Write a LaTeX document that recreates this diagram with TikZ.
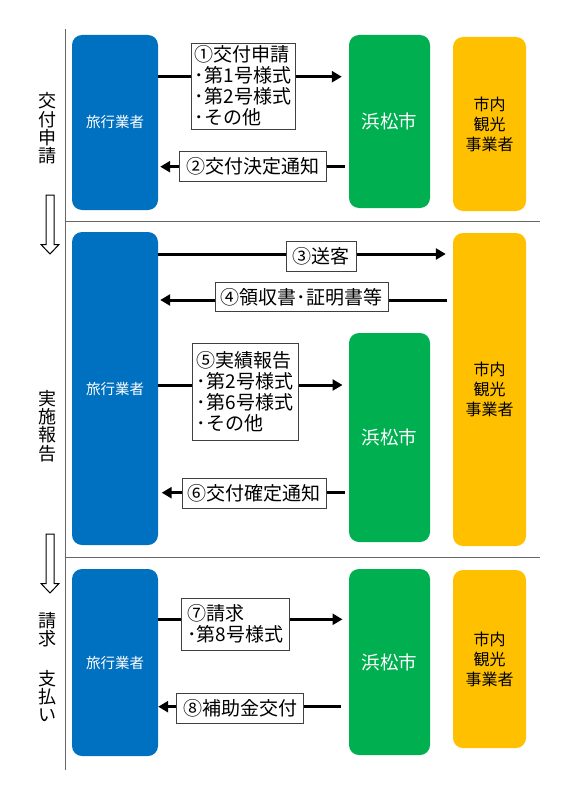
\documentclass[tikz,border=0pt]{standalone}
\usepackage{fontspec}
\setmainfont{Noto Sans CJK JP}
\usetikzlibrary{arrows.meta}
\definecolor{ryoblue}{HTML}{0070C0}
\definecolor{hamagreen}{HTML}{00B050}
\definecolor{kankoorange}{HTML}{FFC000}
\tikzset{
	actor/.style={rounded corners=10pt, inner sep=0pt, align=center},
	ryo/.style={actor, fill=ryoblue, text=white, minimum width=86pt, font=\fontsize{14.5}{16}\selectfont},
	hama/.style={actor, fill=hamagreen, text=white, minimum width=81pt, font=\fontsize{18.5}{20}\selectfont},
	kanko/.style={actor, fill=kankoorange, text=black, minimum width=73pt, font=\fontsize{16}{20}\selectfont},
	msg/.style={draw=black!75, fill=white, line width=0.8pt, inner sep=2pt, align=left, font=\fontsize{19}{21}\selectfont},
	flow/.style={line width=3pt, -{Triangle[length=10pt,width=11pt]}},
	phase/.style={align=center, font=\fontsize{18}{18.3}\selectfont},
	rule/.style={draw=black!60, line width=1pt}
}

\begin{document}
\begin{tikzpicture}[x=1pt,y=-1pt]
					\useasboundingbox (0,0) rectangle (566,800);
					\draw[rule] (65,29) -- (65,770);
					\foreach \y in {221.5,557}
					\draw[rule] (65,\y) -- (540,\y);
					\foreach \top/\tip in {195/254,534/593}
					\draw[fill=white, line width=1pt] (46,\top) -- (54,\top) -- (54,\tip-9.5) -- (59,\tip-9.5) -- (50,\tip) -- (41,\tip-9.5) -- (46,\tip-9.5) -- cycle;
					\node[phase] (p1) at (47,128.5) {交\\付\\申\\請};
					\node[phase] (p2) at (47,426) {実\\施\\報\\告};
					\node[phase] (p3) at (47,630) {請\\求};
					\node[phase] (p4) at (47,696) {支\\払\\い};
					\node[ryo, minimum height=175pt] (ryo1) at (115,122.5) {旅行業者};
					\node[hama, minimum height=173pt] (hama1) at (389.5,121.5) {浜松市};
					\node[kanko, minimum height=174pt] (kanko1) at (489.5,124) {市内\\観光\\事業者};
					\node[ryo, minimum height=313pt] (ryo2) at (115,388.5) {旅行業者};
					\node[hama, minimum height=209pt] (hama2) at (389.5,437.5) {浜松市};
					\node[kanko, minimum height=313pt] (kanko2) at (489.5,389.5) {市内\\観光\\事業者};
					\node[ryo, minimum height=187pt] (ryo3) at (115,662.5) {旅行業者};
					\node[hama, minimum height=186pt] (hama3) at (389.5,662) {浜松市};
					\node[kanko, minimum height=178pt] (kanko3) at (489.5,659) {市内\\観光\\事業者};
					\coordinate (y1) at (0,76.7);
					\coordinate (y2) at (0,166.7);
					\coordinate (y3) at (0,254);
					\coordinate (y4) at (0,300);
					\coordinate (y5) at (0,385);
					\coordinate (y6) at (0,492.7);
					\coordinate (y7) at (0,619.3);
					\coordinate (y8) at (0,706.7);
					\draw[flow, shorten >=7pt] (ryo1.east |- y1) -- (hama1.west |- y1);
					\draw[flow, shorten <=4pt, shorten >=2pt] (hama1.west |- y2) -- (ryo1.east |- y2);
					\draw[flow, shorten >=7pt] (ryo2.east |- y3) -- (kanko2.west |- y3);
					\draw[flow, shorten <=6pt, shorten >=2pt] (kanko2.west |- y4) -- (ryo2.east |- y4);
					\draw[flow, shorten >=6.3pt] (ryo2.east |- y5) -- (hama2.west |- y5);
					\draw[flow, shorten <=4pt, shorten >=3.5pt] (hama2.west |- y6) -- (ryo2.east |- y6);
					\draw[flow, shorten >=6.3pt] (ryo3.east |- y7) -- (hama3.west |- y7);
					\draw[flow, shorten <=8pt] (hama3.west |- y8) -- (ryo3.east |- y8);
					\node[msg, minimum width=104pt, minimum height=86pt] (lab1) at (243,86) {①交付申請\\･第1号様式\\･第2号様式\\･その他};
					\node[msg, minimum width=147pt, minimum height=30pt] (lab2) at (253.3,166.7) {②交付決定通知};
					\node[msg, minimum width=70pt, minimum height=30pt] (lab3) at (321,256.7) {③送客};
					\node[msg, minimum width=173pt, minimum height=29pt] (lab4) at (301.5,297.3) {④領収書･証明書等};
					\node[msg, minimum width=106pt, minimum height=97pt] (lab5) at (245,391.5) {⑤実績報告\\･第2号様式\\･第6号様式\\･その他};
					\node[msg, minimum width=144pt, minimum height=30pt] (lab6) at (254,493) {⑥交付確定通知};
					\node[msg, minimum width=108pt, minimum height=52pt] (lab7) at (235.5,624) {⑦請求\\･第8号様式};
					\node[msg, minimum width=127pt, minimum height=30pt] (lab8) at (240,708) {⑧補助金交付};
				\end{tikzpicture}
\end{document}
